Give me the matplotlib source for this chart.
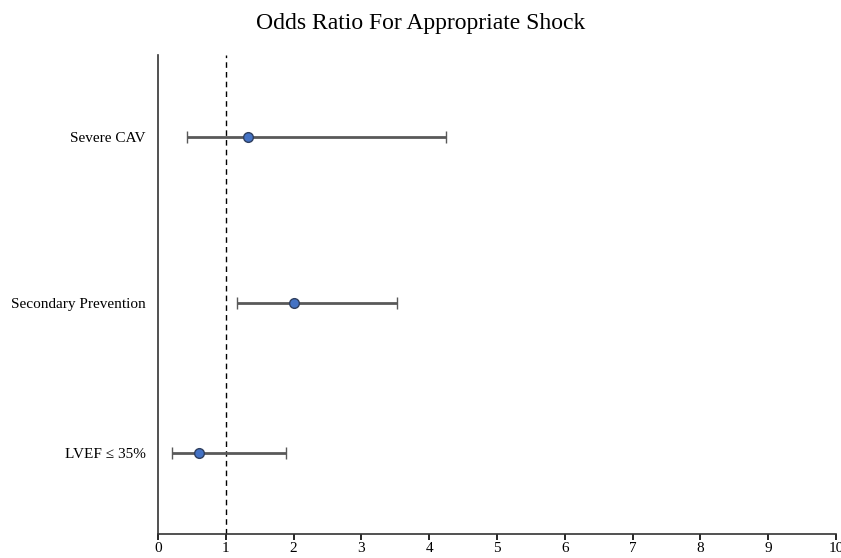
import matplotlib
matplotlib.use('Agg')
import matplotlib.pyplot as plt

plt.rcParams['font.family'] = ['Liberation Serif', 'DejaVu Serif']

# odds ratios with 95% CI
labels = ['Severe CAV', 'Secondary Prevention', 'LVEF \u2264 35%']
ypos = [2.49, 1.45, 0.51]
odds = [1.33, 2.00, 0.60]
ci_low = [0.42, 1.16, 0.20]
ci_high = [4.25, 3.53, 1.88]
xticks = list(range(0, 11))

err_lo = [o - l for o, l in zip(odds, ci_low)]
err_hi = [h - o for o, h in zip(odds, ci_high)]

fig = plt.figure(figsize=(8.41, 5.58), dpi=100)
ax = fig.add_axes([0.188, 0.043, 0.806, 0.858])

ax.errorbar(odds, ypos, xerr=[err_lo, err_hi], fmt='o', color='#595959',
            ecolor='#595959', elinewidth=2, capsize=4, capthick=2,
            markerfacecolor='#4472C4', markeredgecolor='#2F3F5F',
            markersize=7, markeredgewidth=1, zorder=3)
ax.axvline(1, color='black', linestyle=(0, (4, 3)), linewidth=1)

ax.set_xlim(0, 10)
ax.set_ylim(0, 3)
ax.set_xticks(xticks)
ax.set_yticks(ypos)
ax.set_yticklabels(labels)
ax.tick_params(axis='y', length=0, pad=9, labelsize=11)
ax.tick_params(axis='x', direction='out', length=4, width=1.2, labelsize=11, pad=2)
for s in ['top', 'right']:
    ax.spines[s].set_visible(False)
for s in ['left', 'bottom']:
    ax.spines[s].set_linewidth(1.2)
    ax.spines[s].set_color('#333333')

fig.text(0.5, 0.958, 'Odds Ratio For Appropriate Shock', ha='center', va='center', fontsize=17)

fig.savefig('out.png', dpi=100)
